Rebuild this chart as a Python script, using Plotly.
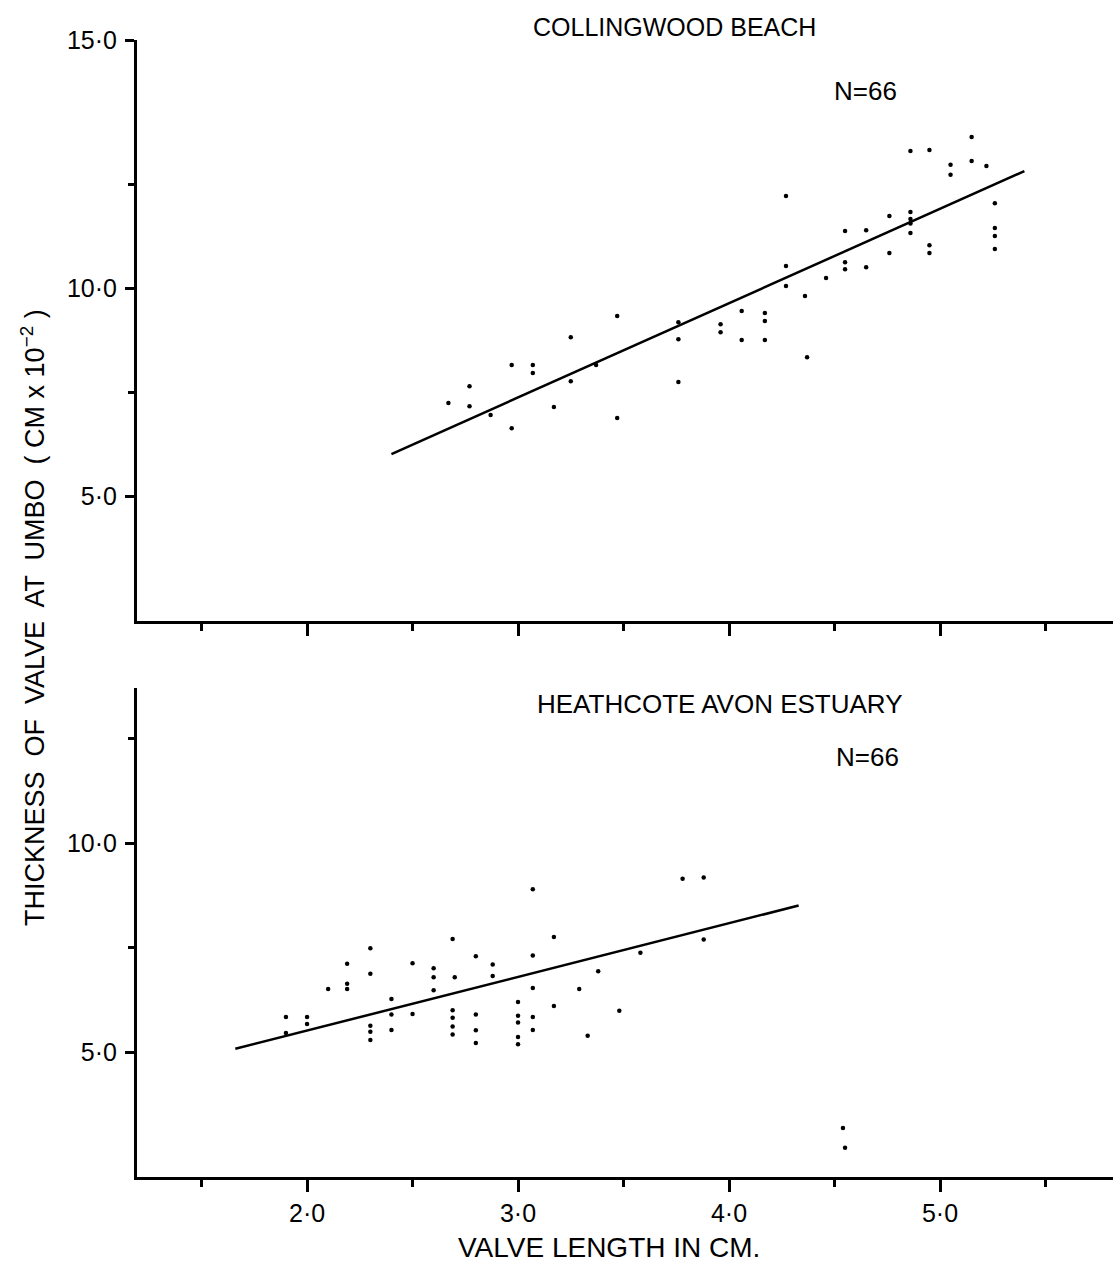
import plotly.graph_objects as go

# Collingwood Beach (top panel) - valve length (cm) vs thickness at umbo
coll_len = [2.67, 2.77, 2.77, 2.87, 2.97, 2.97, 3.07, 3.07, 3.17, 3.25, 3.25, 3.37,
            3.47, 3.47, 3.76, 3.76, 3.76, 3.96, 3.96, 4.06, 4.06, 4.17, 4.17, 4.17,
            4.27, 4.27, 4.27, 4.36, 4.37, 4.46, 4.55, 4.55, 4.55, 4.65, 4.65, 4.76,
            4.76, 4.86, 4.86, 4.86, 4.86, 4.86, 4.95, 4.95, 4.95, 5.05, 5.05, 5.15,
            5.15, 5.22, 5.26, 5.26, 5.26, 5.26]
coll_thick = [7.24, 7.64, 7.16, 6.95, 8.15, 6.63, 8.15, 7.96, 7.14, 8.82, 7.76, 8.15,
              9.33, 6.88, 9.18, 8.77, 7.74, 9.13, 8.94, 9.45, 8.75, 9.40, 9.21, 8.75,
              12.21, 10.53, 10.05, 9.81, 8.34, 10.24, 11.37, 10.62, 10.45, 11.39, 10.50, 11.73,
              10.84, 13.29, 11.83, 11.66, 11.55, 11.32, 13.32, 11.03, 10.84, 12.96, 12.72, 13.63,
              13.05, 12.93, 12.04, 11.44, 11.25, 10.94]
coll_fit_x = [2.40, 5.40]
coll_fit_y = [6.01, 12.81]

# Heathcote Avon Estuary (bottom panel)
heath_len = [1.90, 1.90, 2.00, 2.00, 2.10, 2.19, 2.19, 2.19, 2.30, 2.30, 2.30, 2.30,
             2.30, 2.40, 2.40, 2.40, 2.50, 2.50, 2.60, 2.60, 2.60, 2.69, 2.70, 2.69,
             2.69, 2.69, 2.69, 2.80, 2.80, 2.80, 2.80, 2.88, 2.88, 3.00, 3.00, 3.00,
             3.00, 3.00, 3.07, 3.07, 3.07, 3.07, 3.07, 3.17, 3.17, 3.29, 3.33, 3.38,
             3.48, 3.58, 3.78, 3.88, 3.88, 4.54, 4.55]
heath_thick = [5.85, 5.47, 5.85, 5.68, 6.52, 7.12, 6.64, 6.52, 7.49, 6.88, 5.64, 5.50,
               5.30, 6.28, 5.91, 5.54, 7.13, 5.92, 7.01, 6.80, 6.49, 7.71, 6.80, 6.01,
               5.83, 5.62, 5.43, 7.30, 5.91, 5.53, 5.23, 7.10, 6.83, 6.21, 5.88, 5.72,
               5.37, 5.20, 8.90, 7.32, 6.54, 5.85, 5.54, 7.76, 6.11, 6.52, 5.40, 6.94,
               6.00, 7.38, 9.15, 9.18, 7.70, 3.20, 2.73]
heath_fit_x = [1.66, 4.33]
heath_fit_y = [5.09, 8.51]

x_ticks = [2, 3, 4, 5]
x_labels = ["2·0", "3·0", "4·0", "5·0"]
x_minor = [1.5, 2.5, 3.5, 4.5, 5.5]

FONT = "Liberation Sans, Arial, sans-serif"

fig = go.Figure()
fig.add_trace(go.Scatter(x=coll_len, y=coll_thick, mode="markers",
                         marker=dict(color="black", size=4.5), xaxis="x", yaxis="y"))
fig.add_trace(go.Scatter(x=coll_fit_x, y=coll_fit_y, mode="lines",
                         line=dict(color="black", width=2.5), xaxis="x", yaxis="y"))
fig.add_trace(go.Scatter(x=heath_len, y=heath_thick, mode="markers",
                         marker=dict(color="black", size=4.5), xaxis="x2", yaxis="y2"))
fig.add_trace(go.Scatter(x=heath_fit_x, y=heath_fit_y, mode="lines",
                         line=dict(color="black", width=2.5), xaxis="x2", yaxis="y2"))

axis_common = dict(showline=True, linewidth=3, linecolor="black", mirror=False,
                   showgrid=False, zeroline=False, ticks="outside",
                   tickcolor="black", tickwidth=2.5,
                   tickfont=dict(family=FONT, size=25, color="black"))

xa = dict(axis_common, range=[1.194, 5.82], tickmode="array", tickvals=x_ticks,
          ticklen=12, minor=dict(tickvals=x_minor, ticklen=7, ticks="outside",
                                 tickcolor="black", tickwidth=2.5))

fig.update_layout(
    width=1113, height=1274,
    margin=dict(l=137, r=0, t=40, b=97),
    plot_bgcolor="white", paper_bgcolor="white",
    showlegend=False,
    font=dict(family=FONT, color="black"),
    xaxis=dict(xa, domain=[0, 1], anchor="y", showticklabels=False),
    xaxis2=dict(xa, domain=[0, 1], anchor="y2", ticktext=x_labels,
                ticklabelstandoff=0),
    yaxis=dict(axis_common, domain=[0.489, 1], anchor="x", range=[2.0, 15.96],
               tickmode="array", tickvals=[5, 10, 15.95],
               ticktext=["5·0", "10·0", "15·0"], ticklen=9, ticklabelstandoff=3,
               minor=dict(tickvals=[7.5, 12.5], ticklen=6, ticks="outside",
                          tickcolor="black", tickwidth=2.5)),
    yaxis2=dict(axis_common, domain=[0, 0.430], anchor="x2", range=[2.03, 13.70],
                tickmode="array", tickvals=[5, 10], ticktext=["5·0", "10·0"],
                ticklen=9, ticklabelstandoff=3,
                minor=dict(tickvals=[7.5, 12.5], ticklen=6, ticks="outside",
                           tickcolor="black", tickwidth=2.5)),
)

notes = [
    ("COLLINGWOOD BEACH", 0.551, 1.0114, 25),
    ("N=66", 0.746, 0.955, 26),
    ("HEATHCOTE AVON ESTUARY", 0.597, 0.416, 26),
    ("N=66", 0.748, 0.369, 26),
]
for txt, xp, yp, sz in notes:
    fig.add_annotation(text=txt, x=xp, y=yp, xref="paper", yref="paper",
                       xanchor="center", yanchor="middle", showarrow=False,
                       font=dict(family=FONT, size=sz, color="black"))

fig.add_annotation(text="THICKNESS  OF  VALVE  AT  UMBO  ( CM x 10<sup>−2</sup> )",
                   x=-0.1066, y=0.4925, xref="paper", yref="paper", textangle=-90,
                   xanchor="center", yanchor="middle", showarrow=False,
                   font=dict(family=FONT, size=27, color="black"))
fig.add_annotation(text="VALVE LENGTH IN CM.", x=0.4836, y=-0.0624,
                   xref="paper", yref="paper", xanchor="center", yanchor="middle",
                   showarrow=False, font=dict(family=FONT, size=28, color="black"))

fig.write_html("out.html", config={"displayModeBar": False},
               post_script="document.body.style.margin='0';")
